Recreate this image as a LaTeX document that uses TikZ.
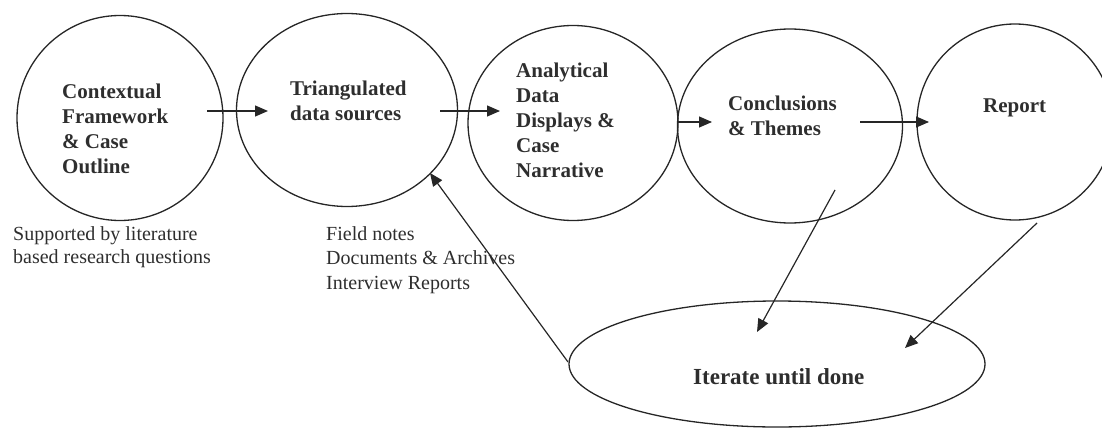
\documentclass[tikz,border=0pt]{standalone}
\usepackage{fontspec}
\setmainfont{Liberation Serif}
\usetikzlibrary{shapes.geometric,arrows.meta}
\begin{document}
\begin{tikzpicture}[x=1pt,y=-1pt,
  stage/.style={draw=black!85, line width=1.3pt, ellipse, inner sep=0pt},
  lbl/.style={font=\bfseries\fontsize{21}{25}\selectfont, align=left, anchor=base west, inner sep=0pt, text=black!82},
  note/.style={font=\fontsize{20}{24}\selectfont, align=left, anchor=base west, inner sep=0pt, text=black!82},
  flow/.style={line width=1.2pt, draw=black!85, -{Triangle[length=13pt,width=11pt]}}]
\useasboundingbox (0,0) rectangle (1102,428);
\clip (0,0) rectangle (1102,428);

% stage ellipses
\node[stage, minimum width=206pt, minimum height=205pt] (ctx) at (120,118) {};
\node[stage, minimum width=221pt, minimum height=193pt] (tri) at (347,110) {};
\node[stage, minimum width=210pt, minimum height=195pt] (ana) at (573,123) {};
\node[stage, minimum width=225pt, minimum height=194pt] (con) at (790,126) {};
\node[stage, minimum width=196pt, minimum height=196pt] (rep) at (1015,122) {};
\node[stage, minimum width=416pt, minimum height=126pt] (itr) at (777,364) {};

% stage labels (anchored at the baseline of their last line)
\node[lbl] (ctxt) at (62,173) {Contextual\\Framework\\\&\ Case\\Outline};
\node[lbl] (trit) at (290,120) {Triangulated\\data sources};
\node[lbl] (anat) at (516,177) {Analytical\\Data\\Displays \&\\Case\\Narrative};
\node[lbl] (cont) at (728,135) {Conclusions\\\&\ Themes};
\node[lbl] (rept) at (983,112) {Report};
\node[lbl, font=\bfseries\fontsize{23}{27}\selectfont] (itrt) at (693,384) {Iterate until done};

% notes under the stages
\node[note, font=\fontsize{20}{23}\selectfont] (ctxn) at (13,263) {Supported by literature\\based research questions};
\node[note, font=\fontsize{20}{24.5}\selectfont] (trin) at (326,289) {Field notes\\Documents \&\ Archives\\Interview Reports};

% connector end points
\coordinate (a1s) at (207,111); \coordinate (a1e) at (268,111);
\coordinate (a2s) at (440,111); \coordinate (a2e) at (500,111);
\coordinate (a3s) at (678,122); \coordinate (a3e) at (712,122);
\coordinate (a4s) at (860,122); \coordinate (a4e) at (929,122);
\coordinate (a5s) at (835,190); \coordinate (a5e) at (757,332);
\coordinate (a6s) at (1037,223); \coordinate (a6e) at (905,348);
\coordinate (a7s) at (568,362); \coordinate (a7e) at (430,173);

% connectors
\draw[flow] (a1s) -- (a1e);
\draw[flow] (a2s) -- (a2e);
\draw[flow] (a3s) -- (a3e);
\draw[flow] (a4s) -- (a4e);
\draw[flow] (a5s) -- (a5e);
\draw[flow] (a6s) -- (a6e);
\draw[flow] (a7s) -- (a7e);
\end{tikzpicture}
\end{document}
